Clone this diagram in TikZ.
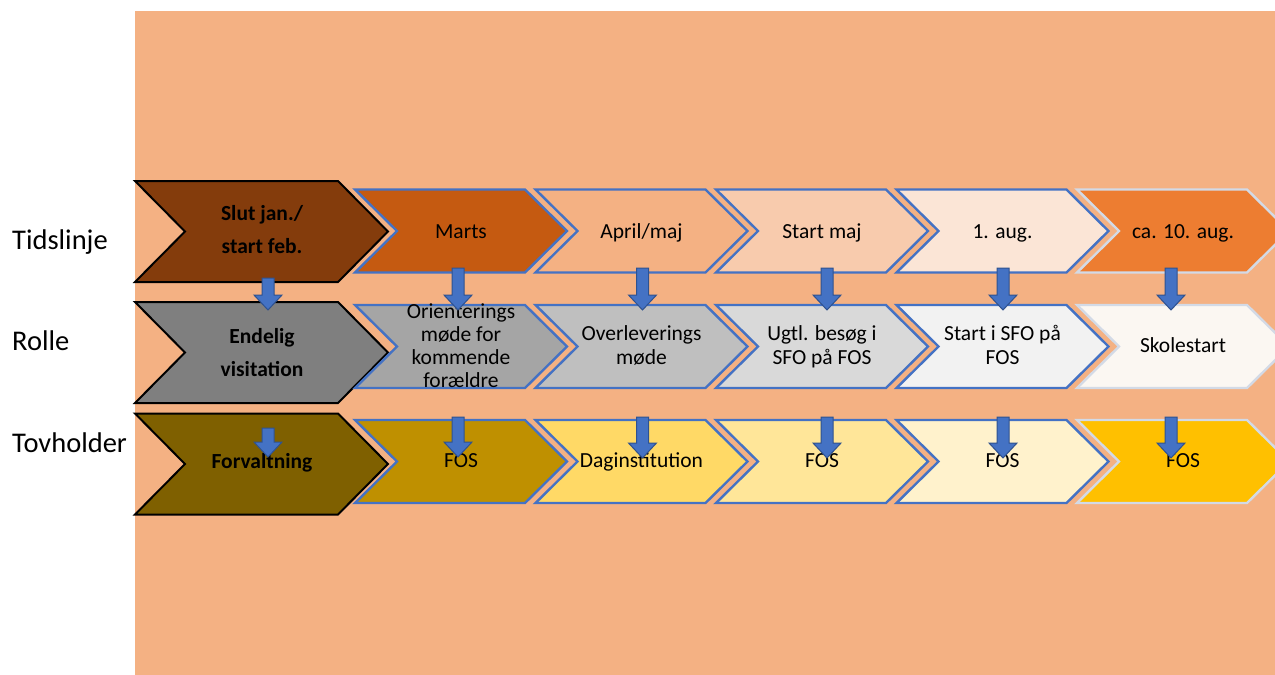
\documentclass[tikz,border=0pt]{standalone}
\usepackage{fontspec}
\setmainfont{Carlito}
\definecolor{bgor}{HTML}{F4B183}
\definecolor{cA1}{HTML}{843C0C}
\definecolor{cA2}{HTML}{C55A11}
\definecolor{cA3}{HTML}{F4B183}
\definecolor{cA4}{HTML}{F8CBAD}
\definecolor{cA5}{HTML}{FBE5D6}
\definecolor{cA6}{HTML}{ED7D31}
\definecolor{cB1}{HTML}{7F7F7F}
\definecolor{cB2}{HTML}{A5A5A5}
\definecolor{cB3}{HTML}{BFBFBF}
\definecolor{cB4}{HTML}{D9D9D9}
\definecolor{cB5}{HTML}{F2F2F2}
\definecolor{cB6}{HTML}{FBF7F2}
\definecolor{cC1}{HTML}{7F6000}
\definecolor{cC2}{HTML}{BF9000}
\definecolor{cC3}{HTML}{FFD966}
\definecolor{cC4}{HTML}{FFE699}
\definecolor{cC5}{HTML}{FFF2CC}
\definecolor{cC6}{HTML}{FFC000}
\definecolor{blueline}{HTML}{4472C4}
\definecolor{bluedark}{HTML}{2F528F}
\definecolor{greyline}{HTML}{D3DAE6}
\tikzset{
  pics/chev/.style n args={3}{code={
    \path[pic actions] (0,-#1) -- (#3-#2,-#1) -- (#3,0) -- (#3-#2,#1) -- (0,#1) -- (#2,0) -- cycle;
  }},
  pics/darr/.style={code={
    \path[pic actions] (-6,0) -- (-6,#1-15) -- (-14,#1-15) -- (0,#1) -- (14,#1-15) -- (6,#1-15) -- (6,0) -- cycle;
  }},
  bigchev/.style={draw=black, line width=2pt, line join=miter},
  smallchev/.style={draw=blueline, line width=2.4pt, line join=miter},
  lastchev/.style={draw=greyline, line width=2.4pt, line join=miter},
  arrowshape/.style={fill=blueline, draw=bluedark, line width=1pt},
  txt/.style={anchor=base, align=center, text=black, inner sep=0pt, font=\fontsize{21.5}{23.6}\selectfont},
  btxt/.style={anchor=base, align=center, text=black, inner sep=0pt, font=\fontsize{21.5}{33}\selectfont\bfseries},
  lbl/.style={anchor=base west, inner sep=0pt, text=black, font=\fontsize{28.5}{30}\selectfont},
}
\begin{document}
\begin{tikzpicture}[x=1pt, y=-1pt]
\useasboundingbox (0,0) rectangle (1275,675);
\clip (0,0) rectangle (1275,675);
\fill[white] (0,0) rectangle (1275,675);
\fill[bgor] (135,11) rectangle (1275,675);

% labels
\node[lbl] (l1) at (12,249) {Tidslinje};
\node[lbl] (l2) at (12,350) {Rolle};
\node[lbl] (l3) at (12,452) {Tovholder};

% row 1
\pic[fill=cA1, bigchev] at (135,231.5) {chev={50.5}{50}{253}};
\pic[fill=cA2, smallchev] at (355,231) {chev={41.5}{42}{212}};
\pic[fill=cA3, smallchev] at (535.5,231) {chev={41.5}{42}{212}};
\pic[fill=cA4, smallchev] at (716,231) {chev={41.5}{42}{212}};
\pic[fill=cA5, smallchev] at (896.5,231) {chev={41.5}{42}{212}};
\pic[fill=cA6, lastchev] at (1077,231) {chev={41.5}{42}{212}};
% row 2
\pic[fill=cB1, bigchev] at (135,352.5) {chev={50.5}{50}{253}};
\pic[fill=cB2, smallchev] at (355,346.5) {chev={41.5}{42}{212}};
\pic[fill=cB3, smallchev] at (535.5,346.5) {chev={41.5}{42}{212}};
\pic[fill=cB4, smallchev] at (716,346.5) {chev={41.5}{42}{212}};
\pic[fill=cB5, smallchev] at (896.5,346.5) {chev={41.5}{42}{212}};
\pic[fill=cB6, lastchev] at (1077,346.5) {chev={41.5}{42}{212}};
% row 3
\pic[fill=cC1, bigchev] at (135,464) {chev={50.5}{50}{253}};
\pic[fill=cC2, smallchev] at (355,461.5) {chev={41.5}{42}{212}};
\pic[fill=cC3, smallchev] at (535.5,461.5) {chev={41.5}{42}{212}};
\pic[fill=cC4, smallchev] at (716,461.5) {chev={41.5}{42}{212}};
\pic[fill=cC5, smallchev] at (896.5,461.5) {chev={41.5}{42}{212}};
\pic[fill=cC6, lastchev] at (1077,461.5) {chev={41.5}{42}{212}};

% texts row 1 (positions are last-line baselines)
\node[btxt] (a1) at (262,253) {Slut jan./\\start feb.};
\node[txt] (a2) at (461,238.3) {Marts};
\node[txt] (a3) at (641.5,238.3) {April/maj};
\node[txt] (a4) at (822,238.3) {Start maj};
\node[txt] (a5) at (1002.5,238.3) {1. aug.};
\node[txt] (a6) at (1183,238.3) {ca. 10. aug.};
% texts row 2
\node[btxt] (b1) at (262,376) {Endelig\\visitation};
\node[txt, font=\fontsize{21.5}{23}\selectfont] (b2) at (461,387) {Orienterings\\møde for\\kommende\\forældre};
\node[txt] (b3) at (641.5,364.3) {Overleverings\\møde};
\node[txt] (b4) at (822,364.3) {Ugtl. besøg i\\SFO på FOS};
\node[txt] (b5) at (1002.5,364.3) {Start i SFO på\\FOS};
\node[txt] (b6) at (1183,352.7) {Skolestart};
% texts row 3
\node[btxt] (c1) at (262,468.3) {Forvaltning};
\node[txt] (c2) at (461,467.7) {FOS};
\node[txt] (c3) at (641.5,467.7) {Daginstitution};
\node[txt] (c4) at (822,467.7) {FOS};
\node[txt] (c5) at (1002.5,467.7) {FOS};
\node[txt] (c6) at (1183,467.7) {FOS};

% arrows
\pic[arrowshape] at (268,278) {darr=32};
\pic[arrowshape] at (268,428) {darr=29};
\pic[arrowshape] at (458,268) {darr=42};
\pic[arrowshape] at (458,417) {darr=40};
\pic[arrowshape] at (642.5,268) {darr=42};
\pic[arrowshape] at (642.5,417) {darr=41};
\pic[arrowshape] at (827,268) {darr=42};
\pic[arrowshape] at (827,417) {darr=41};
\pic[arrowshape] at (1003,268) {darr=42};
\pic[arrowshape] at (1003,417) {darr=41};
\pic[arrowshape] at (1171,268) {darr=42};
\pic[arrowshape] at (1171,417) {darr=41};
\end{tikzpicture}
\end{document}
